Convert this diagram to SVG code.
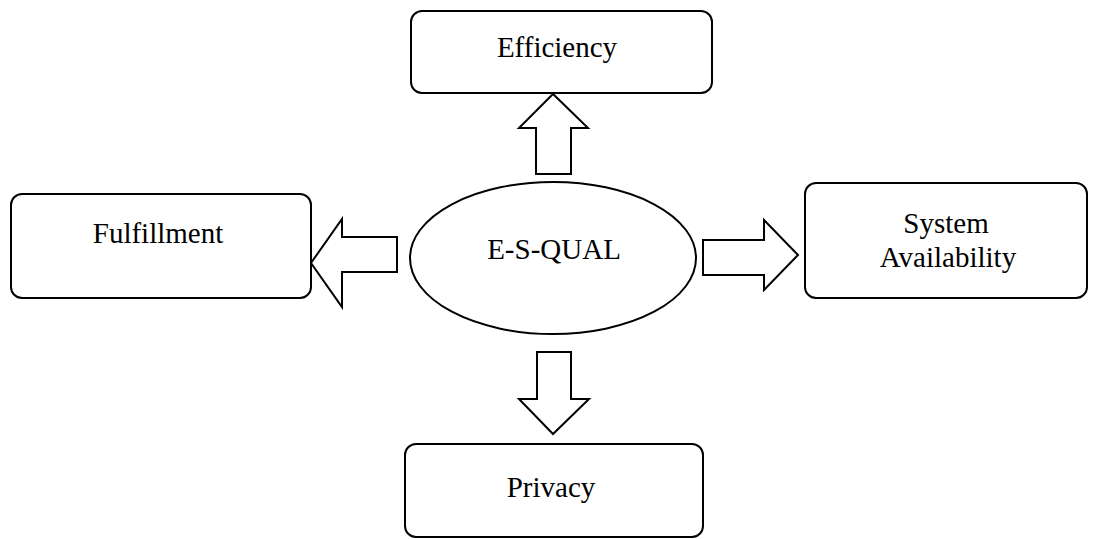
<svg xmlns="http://www.w3.org/2000/svg" width="1096" height="539" viewBox="0 0 1096 539">
<style>
.box{fill:#fff;stroke:#000;stroke-width:2}
.arr{fill:#fff;stroke:#000;stroke-width:2;stroke-linejoin:miter}
text{font-family:"Liberation Serif","Times New Roman",serif;font-size:29px;fill:#000;text-anchor:middle}
</style>
<rect width="1096" height="539" fill="#fff"/>
<g id="efficiency"><rect class="box" x="411" y="11" width="301" height="82" rx="11"/><text x="557" y="57">Efficiency</text></g>
<g id="fulfillment"><rect class="box" x="11" y="194" width="300" height="104" rx="11"/><text x="158" y="243">Fulfillment</text></g>
<g id="system-availability"><rect class="box" x="805" y="183" width="282" height="115" rx="11"/><text x="946" y="233">System</text><text x="948" y="267">Availability</text></g>
<g id="privacy"><rect class="box" x="405" y="444" width="298" height="93" rx="11"/><text x="551" y="497">Privacy</text></g>
<g id="esqual"><ellipse class="box" cx="553" cy="258" rx="143" ry="76"/><text x="554" y="259">E-S-QUAL</text></g>
<g id="connectors">
<polygon class="arr" points="536,174 571,174 571,128 588,128 553,94 519,128 536,128"/>
<polygon class="arr" points="397,237 397,272 342,272 342,307 311,263 342,219 342,237"/>
<polygon class="arr" points="703,240 703,275 764,275 764,290 798,255 764,220 764,240"/>
<polygon class="arr" points="537,352 571,352 571,399 589,399 553,434 519,399 537,399"/>
</g>
</svg>
